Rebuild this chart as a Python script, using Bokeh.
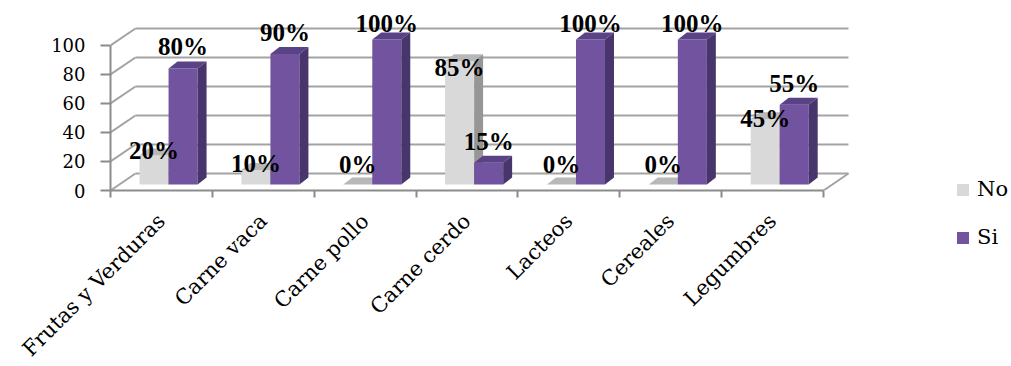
import math
from bokeh.plotting import figure
from bokeh.models import (FixedTicker, CustomJSTickFormatter, Legend, LegendItem,
                          Range1d)
from bokeh.core.properties import value
from bokeh.embed import file_html
from bokeh.resources import INLINE

# ---- data ----
categories = ["Frutas y Verduras", "Carne vaca", "Carne pollo", "Carne cerdo",
              "Lacteos", "Cereales", "Legumbres"]
no_values = [20, 10, 0, 85, 0, 0, 45]
si_values = [80, 90, 100, 15, 100, 100, 55]
y_ticks = [0, 20, 40, 60, 80, 100]
series_names = ["No", "Si"]

# ---- 3D look (style constants, in data units) ----
WALL_DX, WALL_DY = 0.245, 11.7
BAR_BASE = 4.1
BAR_DX, BAR_DY = 0.088, 4.8
BAR_W = 0.285
OFFSETS = [0.285, 0.57]
GRID_COLOR = "#a3a3a3"
AXIS_COLOR = "#8c8c8c"
COLORS = {
    "No": ("#d9d9d9", "#b8b8b8", "#969696"),
    "Si": ("#7153a0", "#5a4286", "#47356b"),
}

n = len(categories)
X_END = 7.265

p = figure(frame_width=740, frame_height=190,
           x_range=Range1d(0, X_END), y_range=Range1d(0, 131),
           output_backend="svg", toolbar_location=None,
           min_border_left=110, min_border_right=161,
           min_border_top=0, min_border_bottom=176)
p.grid.visible = False
p.outline_line_color = None
p.background_fill_color = "white"
p.border_fill_color = "white"

# ---- walls / gridlines ----
gx0, gy0, gx1, gy1 = [], [], [], []
for t in y_ticks:
    gx0.append(WALL_DX); gy0.append(t + WALL_DY)
    gx1.append(n + WALL_DX); gy1.append(t + WALL_DY)
    gx0.append(0); gy0.append(t)
    gx1.append(WALL_DX); gy1.append(t + WALL_DY)
gx0.append(n); gy0.append(0); gx1.append(n + WALL_DX); gy1.append(WALL_DY)
p.segment(x0=gx0, y0=gy0, x1=gx1, y1=gy1, line_color=GRID_COLOR, line_width=2)

# ---- bars ----
front_renderers = {}
for s_idx, (name, vals) in enumerate(zip(series_names, [no_values, si_values])):
    front_c, top_c, side_c = COLORS[name]
    left = [i + OFFSETS[s_idx] for i in range(n)]
    right = [l + BAR_W for l in left]
    bottom = [BAR_BASE] * n
    top = [BAR_BASE + v for v in vals]
    fr = p.quad(left=left, right=right, bottom=bottom, top=top,
                fill_color=front_c, line_color=None)
    front_renderers[name] = fr
    top_xs = [[l, r, r + BAR_DX, l + BAR_DX] for l, r in zip(left, right)]
    top_ys = [[t, t, t + BAR_DY, t + BAR_DY] for t in top]
    p.patches(xs=top_xs, ys=top_ys, fill_color=top_c, line_color=None)
    side_xs = [[r, r + BAR_DX, r + BAR_DX, r] for r in right]
    side_ys = [[b, b + BAR_DY, t + BAR_DY, t] for b, t in zip(bottom, top)]
    p.patches(xs=side_xs, ys=side_ys, fill_color=side_c, line_color=None)

# ---- data labels ----
lab_x, lab_y, lab_t = [], [], []
for i, v in enumerate(no_values):
    lab_x.append(i + OFFSETS[0] + BAR_W / 2)
    lab_y.append(BAR_BASE + max(v * 0.88 + 6, 14))
    lab_t.append(f"{v}%")
for i, v in enumerate(si_values):
    lab_x.append(i + OFFSETS[1] + BAR_W / 2)
    lab_y.append(BAR_BASE + min(v + 15, 111))
    lab_t.append(f"{v}%")
p.text(x=lab_x, y=lab_y, text=lab_t, text_align="center", text_baseline="middle",
       text_font=value("Liberation Serif"), text_font_style="bold",
       text_font_size="25px", text_color="black")

# ---- axes ----
xa = p.xaxis[0]
xa.ticker = FixedTicker(ticks=[i + 0.5 for i in range(n)], minor_ticks=list(range(n + 1)))
xa.formatter = CustomJSTickFormatter(args=dict(labels=categories),
                                     code="return labels[Math.floor(tick)] || '';")
xa.bounds = (0, n)
xa.axis_line_color = AXIS_COLOR
xa.axis_line_width = 2
xa.major_tick_out = 0
xa.major_tick_in = 0
xa.minor_tick_out = 7
xa.minor_tick_in = 0
xa.minor_tick_line_color = AXIS_COLOR
xa.minor_tick_line_width = 2
xa.major_label_orientation = math.pi / 4
xa.major_label_standoff = 20
xa.major_label_text_font = "DejaVu Serif"
xa.major_label_text_font_size = "21px"
xa.major_label_text_color = "black"

ya = p.yaxis[0]
ya.ticker = FixedTicker(ticks=y_ticks, minor_ticks=[])
ya.bounds = (0, 100)
ya.axis_line_color = AXIS_COLOR
ya.axis_line_width = 2
ya.major_tick_out = 10
ya.major_tick_in = 0
ya.major_tick_line_color = AXIS_COLOR
ya.major_tick_line_width = 2
ya.major_label_standoff = 15
ya.major_label_text_font = "DejaVu Serif"
ya.major_label_text_font_size = "18px"
ya.major_label_text_color = "black"

# ---- legend ----
legend = Legend(items=[LegendItem(label=nm, renderers=[front_renderers[nm]]) for nm in series_names],
                location=(105, -62), orientation="vertical",
                glyph_width=15, glyph_height=15, label_standoff=7,
                label_height=30, spacing=18, padding=0, margin=0,
                border_line_color=None, background_fill_alpha=0,
                label_text_font="DejaVu Serif", label_text_font_size="21px",
                label_text_color="black")
p.add_layout(legend, "right")

open("out.html", "w").write(file_html(p, INLINE))
